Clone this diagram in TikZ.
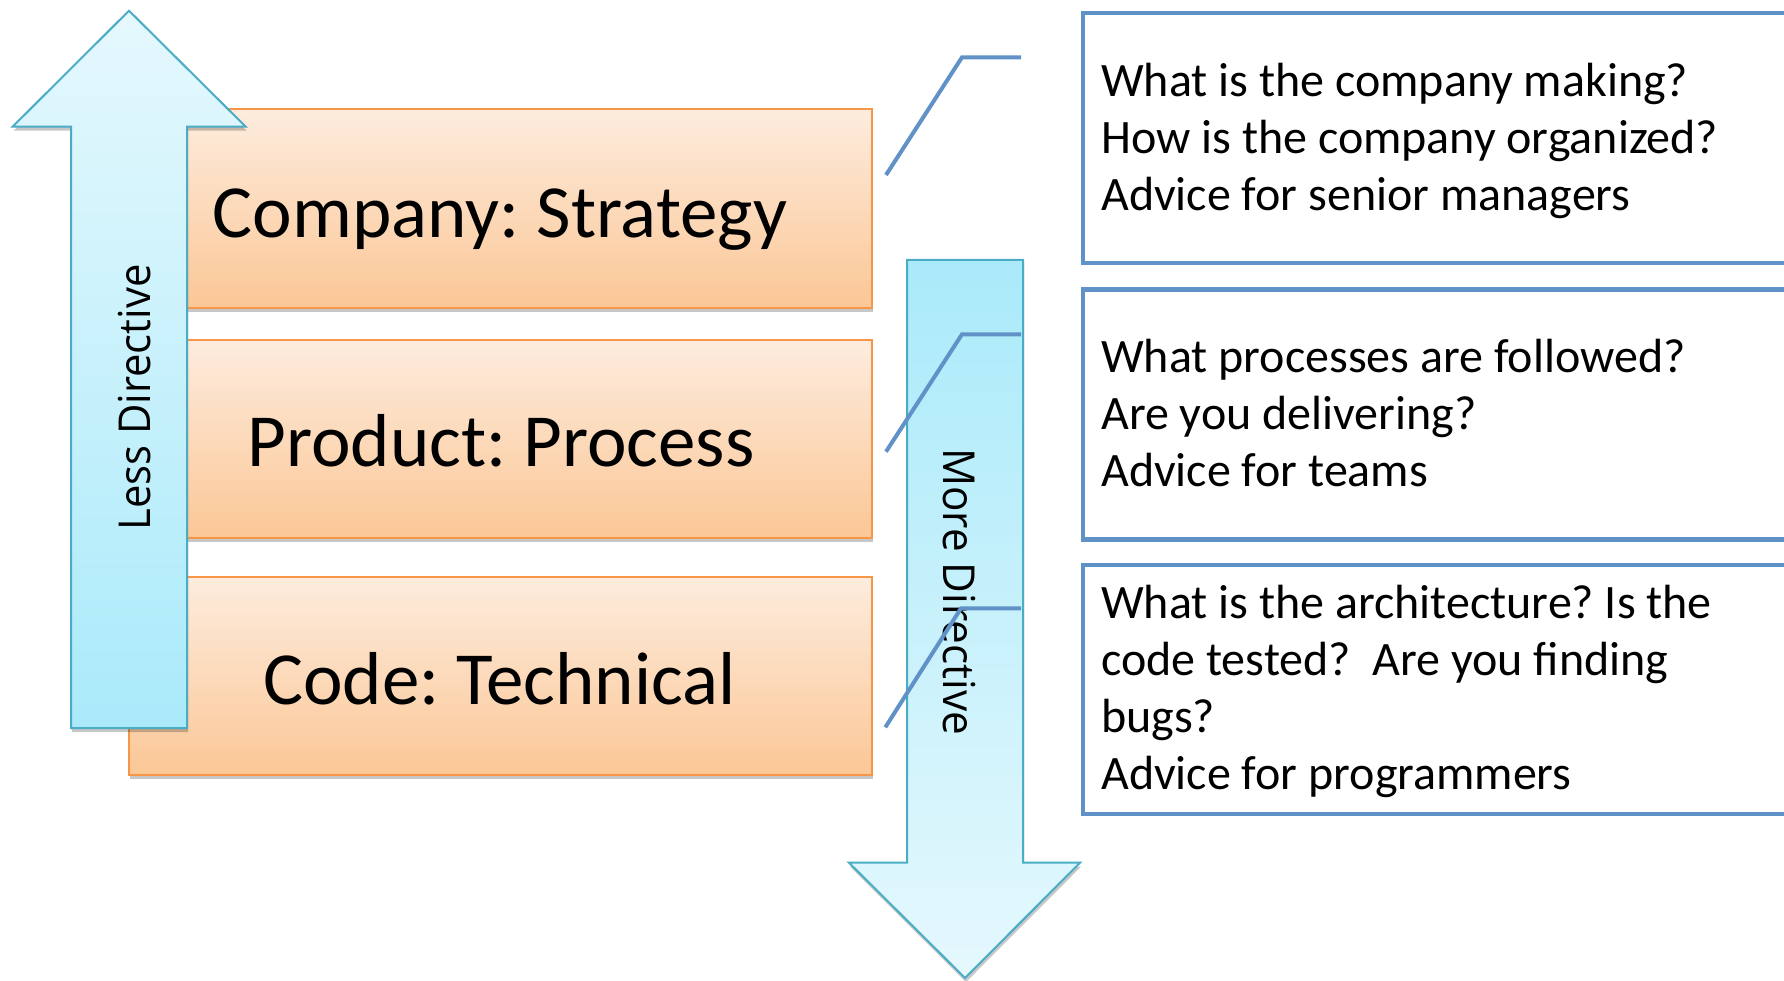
\documentclass[tikz,border=0pt]{standalone}
\usepackage{fontspec}
\usepackage{graphicx}
\setmainfont{Carlito}
\newfontfamily\rotfont{Open Sans}
\usetikzlibrary{shadows}
\frenchspacing
\definecolor{obord}{RGB}{247,150,70}
\definecolor{otop}{RGB}{253,236,222}
\definecolor{obot}{RGB}{251,199,150}
\definecolor{abord}{RGB}{75,172,198}
\definecolor{alight}{RGB}{229,248,253}
\definecolor{adark}{RGB}{170,234,250}
\definecolor{lblue}{RGB}{96,146,200}
\tikzset{
  softshadow/.style={drop shadow={shadow xshift=1pt,shadow yshift=-4pt,fill=black,opacity=0.22}},
  layerbox/.style={draw=obord, line width=2pt, top color=otop, bottom color=obot,
    softshadow, inner sep=0pt, anchor=north west},
  layerlabel/.style={anchor=base, inner sep=0pt, font=\fontsize{75}{90}\selectfont},
  bigarrow/.style={draw=abord, line width=2pt, line join=miter, softshadow},
  rotlabel/.style={anchor=base, inner sep=0pt, font=\rotfont\fontsize{44}{53}\selectfont},
  qbox/.style={draw=lblue, line width=4.5pt, inner sep=0pt, anchor=north west, minimum width=800pt},
  qtext/.style={anchor=base west, inner sep=0pt, font=\fontsize{48}{57}\selectfont},
  callout/.style={draw=lblue, line width=4pt, line join=miter}
}
\begin{document}
\begin{tikzpicture}[x=1pt,y=-1pt]
\useasboundingbox (0,0) rectangle (1784,981);
\clip (0,0) rectangle (1784,981);
\fill[white] (0,0) rectangle (1784,981);

% layer boxes
\node[layerbox, minimum width=743pt, minimum height=198.7pt] (b1) at (128,108) {};
\node[layerbox, minimum width=743pt, minimum height=197.7pt] (b2) at (128,339) {};
\node[layerbox, minimum width=743pt, minimum height=198.3pt] (b3) at (128,575.7) {};

% up arrow
\path[bigarrow, top color=alight, bottom color=adark]
  (129,10.7) -- (245.7,126.7) -- (187,126.7) -- (187,728) -- (71,728)
  -- (71,126.7) -- (12.6,126.7) -- cycle;

% down arrow
\path[bigarrow, top color=adark, bottom color=alight]
  (907,260) -- (1023,260) -- (1023,862.7) -- (1080,862.7) -- (965,978)
  -- (849,862.7) -- (907,862.7) -- cycle;

% layer labels
\node[layerlabel] (l1) at (500,238) {Company: Strategy};
\node[layerlabel] (l2) at (501,466.7) {Product: Process};
\node[layerlabel] (l3) at (499.5,704) {Code: Technical};

% arrow labels
\node[rotlabel, rotate=90] (ld) at (150,397.5) {\scalebox{0.95}[1]{Less Directive}};
\node[rotlabel, rotate=-90] (md) at (943.3,591.7) {\scalebox{0.96}[1]{More Directive}};

% callouts
\coordinate (c1s) at (886,175);
\coordinate (c1k) at (962,57.3);
\coordinate (c1e) at (1021,57.3);
\coordinate (c2s) at (886,451.7);
\coordinate (c2k) at (962,334.3);
\coordinate (c2e) at (1021,334.3);
\coordinate (c3s) at (885.3,727.3);
\coordinate (c3k) at (961,608.3);
\coordinate (c3e) at (1021,608.3);
\draw[callout] (c1s) -- (c1k) -- (c1e);
\draw[callout] (c2s) -- (c2k) -- (c2e);
\draw[callout] (c3s) -- (c3k) -- (c3e);

% question boxes
\node[qbox, minimum height=249.7pt] (q1) at (1080.5,11) {};
\node[qbox, minimum height=250pt] (q2) at (1080.5,287.3) {};
\node[qbox, minimum height=249pt] (q3) at (1080.5,562.7) {};

\node[qtext] (t1) at (1101,96.7) {\vtop{\hbox{What is the company making?}\hbox{How is the company organized?}\hbox{Advice for senior managers}}};
\node[qtext] (t2) at (1101,372.7) {\vtop{\hbox{What processes are followed?}\hbox{Are you delivering?}\hbox{Advice for teams}}};
\node[qtext] (t3) at (1101,618.3) {\vtop{\hbox{What is the architecture? Is the}\hbox{code tested?~ Are you finding}\hbox{bugs?}\hbox{Advice for programmers}}};
\end{tikzpicture}
\end{document}
